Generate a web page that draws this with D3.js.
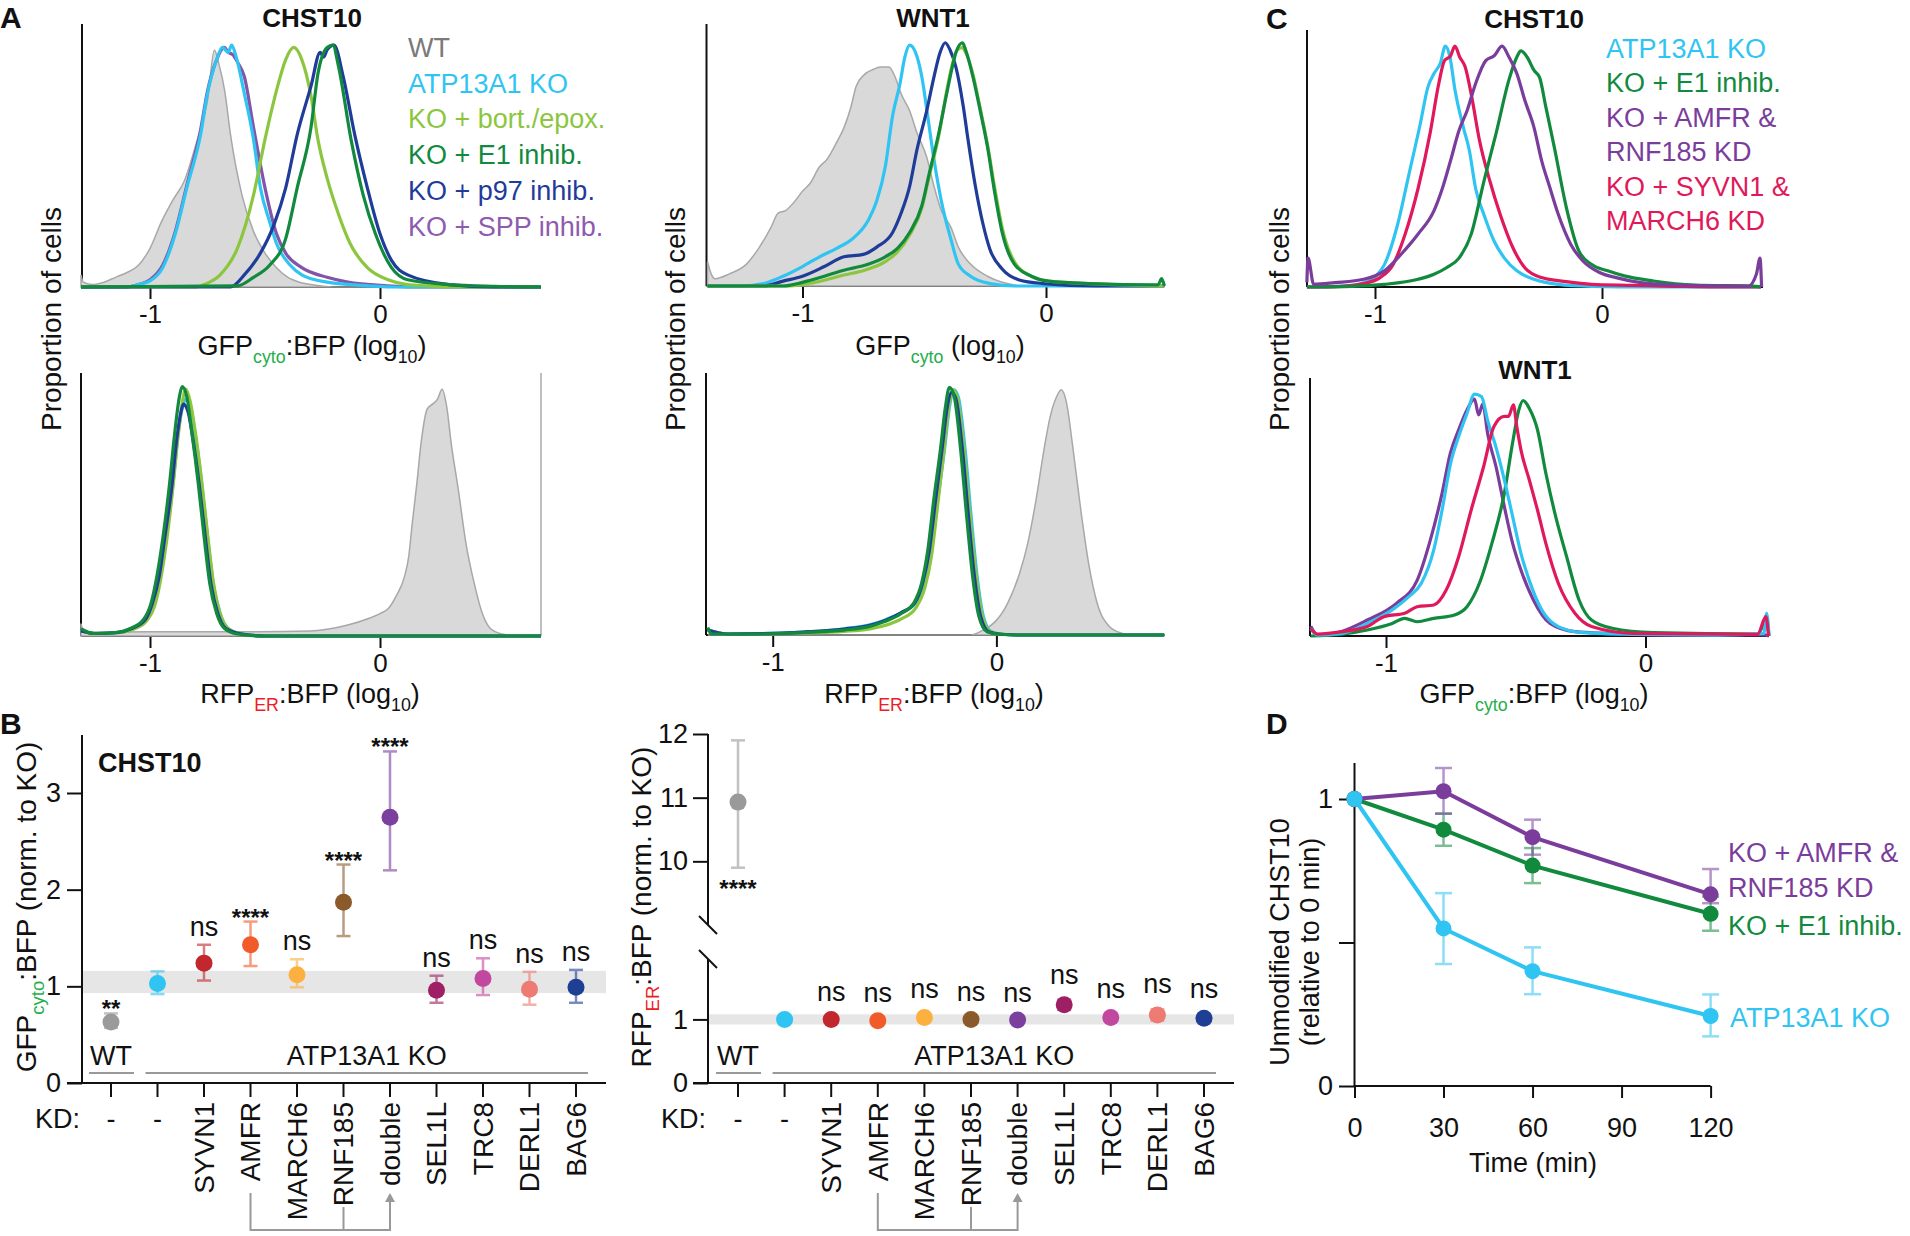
<!DOCTYPE html>
<html>
<head>
<meta charset="utf-8">
<script src="https://cdn.jsdelivr.net/npm/d3@7"></script>
<style>
body { margin: 0; background: #fff; }
svg { display: block; font-family: "Liberation Sans", Arial, sans-serif; }
</style>
</head>
<body>
<script>
// ---------- Panel A: histograms, [log10 ratio, fraction of peak] ----------
const chstGfpWT = [[-1.3,0.05],[-1.29,0.02],[-1.25,0.01],[-1.2,0.02],[-1.15,0.04],[-1.1,0.06],[-1.05,0.09],[-1.0,0.16],[-0.95,0.27],[-0.9,0.36],[-0.85,0.44],[-0.8,0.59],[-0.75,0.77],[-0.72,0.98],[-0.7,0.92],[-0.675,0.81],[-0.65,0.63],[-0.6,0.38],[-0.55,0.23],[-0.5,0.14],[-0.45,0.08],[-0.4,0.04],[-0.35,0.02],[-0.3,0.01],[-0.2,0],[0.7,0]];
const chstGfpKO = [[-1.3,0],[-1.1,0],[-1.05,0.01],[-1.0,0.025],[-0.945,0.08],[-0.89,0.22],[-0.84,0.41],[-0.78,0.63],[-0.75,0.8],[-0.71,0.94],[-0.685,0.99],[-0.66,0.97],[-0.645,1.0],[-0.625,0.95],[-0.59,0.8],[-0.55,0.61],[-0.52,0.41],[-0.48,0.27],[-0.45,0.18],[-0.39,0.09],[-0.34,0.05],[-0.23,0.02],[-0.05,0.005],[0.1,0],[0.7,0]];
const chstGfpSPP = [[-1.3,0],[-1.1,0],[-1.05,0.01],[-1.0,0.03],[-0.945,0.09],[-0.89,0.23],[-0.84,0.42],[-0.78,0.65],[-0.75,0.81],[-0.71,0.94],[-0.677,0.99],[-0.66,0.97],[-0.64,0.96],[-0.62,0.93],[-0.59,0.87],[-0.55,0.66],[-0.5,0.41],[-0.45,0.22],[-0.41,0.14],[-0.34,0.08],[-0.23,0.04],[-0.14,0.02],[0.03,0.005],[0.2,0],[0.7,0]];
const chstGfpBort = [[-1.3,0],[-0.8,0],[-0.765,0.01],[-0.695,0.05],[-0.62,0.16],[-0.55,0.38],[-0.5,0.61],[-0.445,0.83],[-0.41,0.94],[-0.375,0.99],[-0.34,0.94],[-0.3,0.79],[-0.27,0.61],[-0.23,0.45],[-0.18,0.3],[-0.13,0.18],[-0.055,0.08],[0.035,0.03],[0.12,0.01],[0.21,0.005],[0.3,0],[0.7,0]];
const chstGfpP97 = [[-1.3,0],[-0.65,0],[-0.59,0.05],[-0.52,0.14],[-0.46,0.26],[-0.41,0.41],[-0.36,0.63],[-0.3,0.83],[-0.26,0.97],[-0.245,0.95],[-0.23,0.98],[-0.2,1.0],[-0.16,0.87],[-0.11,0.63],[-0.055,0.41],[0.0,0.22],[0.05,0.11],[0.12,0.05],[0.3,0.01],[0.5,0],[0.7,0]];
const chstGfpE1 = [[-1.3,0],[-0.62,0.005],[-0.55,0.04],[-0.48,0.09],[-0.41,0.2],[-0.36,0.41],[-0.3,0.66],[-0.27,0.88],[-0.23,0.99],[-0.205,1.0],[-0.18,0.91],[-0.126,0.61],[-0.073,0.38],[-0.02,0.22],[0.05,0.08],[0.12,0.03],[0.3,0.01],[0.5,0.003],[0.7,0]];

const wntGfpWT = [[-1.39,0.1],[-1.375,0.05],[-1.36,0.03],[-1.3,0.05],[-1.23,0.09],[-1.18,0.155],[-1.13,0.24],[-1.1,0.3],[-1.07,0.31],[-1.03,0.35],[-1.0,0.39],[-0.97,0.42],[-0.93,0.49],[-0.9,0.52],[-0.86,0.59],[-0.83,0.65],[-0.8,0.74],[-0.78,0.82],[-0.745,0.87],[-0.71,0.89],[-0.68,0.9],[-0.645,0.9],[-0.62,0.86],[-0.595,0.79],[-0.56,0.72],[-0.53,0.63],[-0.49,0.53],[-0.46,0.41],[-0.43,0.31],[-0.39,0.24],[-0.36,0.16],[-0.31,0.09],[-0.24,0.04],[-0.16,0.01],[-0.1,0],[0.486,0]];
const wntGfpKO = [[-1.39,0],[-1.25,0],[-1.16,0.01],[-1.08,0.04],[-1.0,0.08],[-0.93,0.12],[-0.86,0.155],[-0.8,0.19],[-0.73,0.27],[-0.695,0.35],[-0.66,0.49],[-0.63,0.7],[-0.6,0.83],[-0.58,0.94],[-0.56,0.99],[-0.536,0.96],[-0.51,0.86],[-0.486,0.7],[-0.46,0.52],[-0.43,0.35],[-0.39,0.19],[-0.36,0.09],[-0.31,0.04],[-0.23,0.01],[-0.13,0],[0.486,0]];
const wntGfpP97 = [[-1.39,0],[-1.16,0],[-1.08,0.02],[-1.0,0.04],[-0.91,0.08],[-0.83,0.12],[-0.75,0.13],[-0.695,0.16],[-0.63,0.22],[-0.595,0.3],[-0.56,0.41],[-0.53,0.56],[-0.49,0.72],[-0.46,0.86],[-0.435,0.96],[-0.414,1.0],[-0.394,0.97],[-0.37,0.9],[-0.34,0.74],[-0.32,0.6],[-0.29,0.41],[-0.26,0.26],[-0.23,0.15],[-0.18,0.07],[-0.11,0.025],[-0.01,0.01],[0.2,0],[0.486,0]];
const wntGfpBort = [[-1.39,0],[-1.05,0],[-0.95,0.015],[-0.83,0.045],[-0.745,0.065],[-0.66,0.1],[-0.61,0.14],[-0.56,0.21],[-0.51,0.32],[-0.48,0.45],[-0.44,0.62],[-0.41,0.79],[-0.385,0.91],[-0.365,0.97],[-0.345,0.98],[-0.33,0.96],[-0.3,0.87],[-0.27,0.73],[-0.24,0.58],[-0.21,0.4],[-0.18,0.24],[-0.13,0.1],[-0.06,0.04],[0.01,0.02],[0.18,0.01],[0.486,0]];
const wntGfpE1 = [[-1.39,0],[-1.08,0],[-1.0,0.015],[-0.91,0.04],[-0.83,0.065],[-0.745,0.085],[-0.66,0.12],[-0.61,0.155],[-0.56,0.22],[-0.51,0.33],[-0.48,0.46],[-0.44,0.63],[-0.41,0.78],[-0.385,0.9],[-0.37,0.96],[-0.343,1.0],[-0.33,0.97],[-0.3,0.86],[-0.27,0.72],[-0.24,0.57],[-0.21,0.38],[-0.18,0.22],[-0.13,0.09],[-0.06,0.04],[0.01,0.02],[0.18,0.01],[0.46,0.005],[0.475,0.03],[0.486,0]];

const chstRfpWT = [[-1.3,0.05],[-1.29,0.02],[-1.25,0.015],[-1.0,0.017],[-0.6,0.017],[-0.3,0.02],[-0.23,0.027],[-0.14,0.044],[-0.05,0.07],[0,0.09],[0.036,0.11],[0.07,0.16],[0.107,0.24],[0.125,0.32],[0.14,0.45],[0.16,0.61],[0.178,0.77],[0.205,0.91],[0.228,0.93],[0.25,0.95],[0.27,0.99],[0.29,0.92],[0.31,0.77],[0.34,0.59],[0.374,0.37],[0.41,0.21],[0.445,0.09],[0.48,0.03],[0.53,0.008],[0.6,0],[0.7,0]];
const chstRfpKO = [[-1.3,0.02],[-1.23,0.01],[-1.14,0.013],[-1.07,0.03],[-1.015,0.064],[-0.98,0.13],[-0.955,0.24],[-0.928,0.4],[-0.9,0.61],[-0.878,0.81],[-0.855,0.93],[-0.845,0.95],[-0.825,0.92],[-0.805,0.82],[-0.775,0.61],[-0.75,0.4],[-0.725,0.21],[-0.695,0.09],[-0.66,0.03],[-0.6,0.008],[-0.5,0],[0.7,0]];
const chstRfpBort = [[-1.3,0.02],[-1.23,0.01],[-1.14,0.013],[-1.07,0.028],[-1.015,0.06],[-0.98,0.12],[-0.955,0.22],[-0.928,0.38],[-0.9,0.6],[-0.878,0.8],[-0.855,0.96],[-0.845,0.99],[-0.825,0.94],[-0.805,0.83],[-0.775,0.62],[-0.75,0.41],[-0.725,0.22],[-0.695,0.09],[-0.66,0.03],[-0.6,0.008],[-0.5,0],[0.7,0]];
const chstRfpP97 = [[-1.3,0.02],[-1.24,0.01],[-1.15,0.013],[-1.08,0.03],[-1.02,0.066],[-0.99,0.13],[-0.96,0.24],[-0.935,0.4],[-0.905,0.6],[-0.885,0.78],[-0.865,0.9],[-0.855,0.93],[-0.835,0.9],[-0.815,0.8],[-0.785,0.6],[-0.76,0.4],[-0.735,0.21],[-0.705,0.09],[-0.67,0.03],[-0.6,0.008],[-0.5,0],[0.7,0]];
const chstRfpE1 = [[-1.3,0.03],[-1.245,0.01],[-1.157,0.013],[-1.085,0.03],[-1.03,0.064],[-0.996,0.13],[-0.97,0.24],[-0.943,0.4],[-0.915,0.61],[-0.893,0.81],[-0.87,0.97],[-0.86,1.0],[-0.84,0.96],[-0.82,0.83],[-0.79,0.61],[-0.765,0.4],[-0.74,0.21],[-0.71,0.09],[-0.676,0.03],[-0.62,0.008],[-0.5,0],[0.7,0]];

const wntRfpWT = [[-1.29,0],[-0.115,0],[-0.06,0.02],[-0.005,0.054],[0.05,0.128],[0.104,0.25],[0.14,0.37],[0.177,0.545],[0.213,0.75],[0.24,0.88],[0.268,0.96],[0.29,0.99],[0.314,0.935],[0.34,0.77],[0.378,0.5],[0.414,0.28],[0.45,0.13],[0.505,0.034],[0.56,0.007],[0.6,0],[0.75,0]];
const wntRfpKO = [[-1.29,0.02],[-1.2,0.004],[-0.863,0.012],[-0.68,0.025],[-0.57,0.04],[-0.5,0.06],[-0.425,0.09],[-0.36,0.13],[-0.32,0.21],[-0.29,0.34],[-0.262,0.545],[-0.232,0.75],[-0.21,0.92],[-0.19,0.99],[-0.17,0.96],[-0.14,0.75],[-0.113,0.48],[-0.086,0.235],[-0.058,0.074],[-0.022,0.013],[0.03,0.003],[0.1,0],[0.75,0]];
const wntRfpBort = [[-1.29,0.02],[-1.2,0.003],[-0.863,0.008],[-0.68,0.015],[-0.57,0.024],[-0.5,0.038],[-0.425,0.065],[-0.36,0.11],[-0.32,0.19],[-0.29,0.32],[-0.262,0.53],[-0.235,0.74],[-0.213,0.92],[-0.195,0.99],[-0.175,0.96],[-0.145,0.75],[-0.118,0.48],[-0.09,0.235],[-0.062,0.074],[-0.026,0.013],[0.03,0.003],[0.1,0],[0.75,0]];
const wntRfpP97 = [[-1.29,0.02],[-1.2,0.004],[-0.863,0.012],[-0.68,0.024],[-0.57,0.038],[-0.5,0.058],[-0.425,0.09],[-0.365,0.13],[-0.33,0.21],[-0.3,0.34],[-0.272,0.545],[-0.243,0.75],[-0.22,0.92],[-0.2,0.98],[-0.18,0.95],[-0.152,0.75],[-0.125,0.48],[-0.098,0.235],[-0.07,0.074],[-0.034,0.013],[0.02,0.003],[0.1,0],[0.75,0]];
const wntRfpE1 = [[-1.29,0.03],[-1.275,0.004],[-1.23,0.004],[-1.05,0.004],[-0.863,0.01],[-0.68,0.02],[-0.57,0.034],[-0.5,0.054],[-0.425,0.087],[-0.37,0.128],[-0.334,0.21],[-0.307,0.34],[-0.28,0.545],[-0.25,0.75],[-0.228,0.92],[-0.21,1.0],[-0.188,0.96],[-0.16,0.75],[-0.133,0.48],[-0.106,0.235],[-0.078,0.074],[-0.042,0.013],[0.013,0.003],[0.1,0],[0.75,0]];

// ---------- Panel C: histograms ----------
const cChstKO = [[-1.3,0],[-1.14,0.004],[-1.05,0.018],[-0.995,0.046],[-0.958,0.094],[-0.903,0.25],[-0.85,0.47],[-0.8,0.68],[-0.767,0.83],[-0.74,0.886],[-0.712,0.93],[-0.69,1.0],[-0.67,0.955],[-0.648,0.82],[-0.61,0.66],[-0.585,0.57],[-0.557,0.41],[-0.52,0.3],[-0.475,0.19],[-0.43,0.12],[-0.375,0.067],[-0.3,0.032],[-0.193,0.011],[-0.047,0.003],[0.2,0],[0.7,0]];
const cChstSYVN1 = [[-1.3,0],[-1.15,0.003],[-1.05,0.014],[-0.976,0.04],[-0.92,0.094],[-0.867,0.22],[-0.81,0.41],[-0.757,0.64],[-0.72,0.84],[-0.694,0.94],[-0.667,0.96],[-0.648,1.0],[-0.627,0.955],[-0.603,0.914],[-0.576,0.8],[-0.54,0.61],[-0.494,0.44],[-0.448,0.3],[-0.393,0.164],[-0.34,0.08],[-0.266,0.039],[-0.157,0.022],[-0.047,0.011],[0.135,0.007],[0.317,0.003],[0.5,0],[0.7,0]];
const cChstAMFR = [[-1.3,0.02],[-1.295,0.12],[-1.27,0.011],[-1.177,0.018],[-1.05,0.032],[-0.958,0.067],[-0.885,0.136],[-0.81,0.22],[-0.74,0.317],[-0.703,0.41],[-0.667,0.525],[-0.63,0.65],[-0.594,0.733],[-0.557,0.844],[-0.512,0.94],[-0.475,0.96],[-0.44,1.0],[-0.41,0.955],[-0.375,0.886],[-0.34,0.775],[-0.3,0.664],[-0.266,0.525],[-0.23,0.414],[-0.193,0.303],[-0.138,0.178],[-0.084,0.108],[-0.011,0.06],[0.062,0.039],[0.17,0.018],[0.317,0.008],[0.645,0.004],[0.68,0.053],[0.696,0.12],[0.703,0]];
const cChstE1 = [[-1.3,0],[-1.1,0.003],[-0.958,0.011],[-0.81,0.032],[-0.74,0.053],[-0.685,0.08],[-0.63,0.12],[-0.576,0.22],[-0.52,0.44],[-0.466,0.64],[-0.41,0.86],[-0.375,0.955],[-0.357,0.98],[-0.33,0.955],[-0.3,0.9],[-0.275,0.87],[-0.248,0.75],[-0.21,0.58],[-0.157,0.33],[-0.102,0.15],[-0.047,0.094],[0.025,0.067],[0.098,0.046],[0.226,0.025],[0.408,0.008],[0.68,0.003],[0.7,0]];

const cWntKO = [[-1.29,0.03],[-1.264,0.004],[-1.168,0.011],[-1.072,0.052],[-0.976,0.108],[-0.912,0.163],[-0.864,0.218],[-0.816,0.356],[-0.784,0.52],[-0.752,0.71],[-0.72,0.825],[-0.688,0.92],[-0.659,1.0],[-0.632,0.99],[-0.608,0.89],[-0.576,0.78],[-0.544,0.646],[-0.512,0.494],[-0.48,0.342],[-0.448,0.23],[-0.4,0.108],[-0.336,0.039],[-0.24,0.014],[-0.048,0.007],[0.272,0.004],[0.456,0.011],[0.467,0.094],[0.476,0]];
const cWntAMFR = [[-1.29,0.04],[-1.264,0.004],[-1.168,0.02],[-1.072,0.066],[-0.96,0.135],[-0.88,0.23],[-0.832,0.386],[-0.784,0.59],[-0.752,0.756],[-0.72,0.853],[-0.688,0.935],[-0.659,0.98],[-0.643,0.914],[-0.627,0.96],[-0.608,0.835],[-0.576,0.7],[-0.544,0.535],[-0.512,0.383],[-0.48,0.273],[-0.432,0.149],[-0.368,0.052],[-0.272,0.018],[-0.048,0.007],[0.2,0.004],[0.456,0.005],[0.476,0]];
const cWntSYVN1 = [[-1.29,0.03],[-1.264,0.008],[-1.168,0.018],[-1.072,0.039],[-1.008,0.08],[-0.928,0.094],[-0.88,0.121],[-0.816,0.128],[-0.768,0.19],[-0.72,0.328],[-0.672,0.52],[-0.624,0.7],[-0.584,0.866],[-0.544,0.908],[-0.528,0.908],[-0.509,0.956],[-0.496,0.866],[-0.48,0.77],[-0.448,0.646],[-0.416,0.52],[-0.384,0.383],[-0.336,0.218],[-0.272,0.094],[-0.208,0.039],[-0.048,0.011],[0.432,0.007],[0.464,0.08],[0.474,0]];
const cWntE1 = [[-1.29,0],[-1.168,0.008],[-1.072,0.025],[-0.976,0.052],[-0.928,0.073],[-0.88,0.059],[-0.816,0.073],[-0.736,0.087],[-0.688,0.121],[-0.64,0.218],[-0.592,0.383],[-0.544,0.59],[-0.512,0.8],[-0.488,0.935],[-0.472,0.974],[-0.448,0.942],[-0.416,0.852],[-0.384,0.673],[-0.352,0.52],[-0.304,0.328],[-0.256,0.149],[-0.208,0.066],[-0.128,0.032],[0.032,0.014],[0.432,0.008],[0.467,0.066],[0.476,0]];

// ---------- Panel B: dot plots ----------
const kdCats = ['WT', 'KO', 'SYVN1', 'AMFR', 'MARCH6', 'RNF185', 'double', 'SEL1L', 'TRC8', 'DERL1', 'BAG6'];
const kdTickLabels = ['-', '-', 'SYVN1', 'AMFR', 'MARCH6', 'RNF185', 'double', 'SEL1L', 'TRC8', 'DERL1', 'BAG6'];
const gfpMean = [0.63, 1.03, 1.24, 1.43, 1.12, 1.87, 2.75, 0.96, 1.08, 0.97, 0.99];
const gfpLow  = [0.57, 0.92, 1.06, 1.21, 0.99, 1.52, 2.20, 0.83, 0.91, 0.81, 0.83];
const gfpHigh = [0.72, 1.155, 1.43, 1.67, 1.28, 2.26, 3.43, 1.11, 1.29, 1.15, 1.17];
const gfpSig  = ['**', '', 'ns', '****', 'ns', '****', '****', 'ns', 'ns', 'ns', 'ns'];
const rfpMean = [10.93, 1.0, 1.0, 0.98, 1.03, 1.0, 0.99, 1.23, 1.03, 1.07, 1.02];
const rfpLow  = [9.9, 0.97, 0.96, 0.94, 0.98, 0.96, 0.95, 1.15, 0.97, 0.98, 0.96];
const rfpHigh = [11.9, 1.03, 1.04, 1.02, 1.08, 1.04, 1.03, 1.31, 1.09, 1.16, 1.08];
const rfpSig  = ['****', '', 'ns', 'ns', 'ns', 'ns', 'ns', 'ns', 'ns', 'ns', 'ns'];
const gfpBand = [0.93, 1.16];
const rfpBand = [0.92, 1.08];

// ---------- Panel D: chase ----------
const chaseTimes = [0, 30, 60, 120];
const chaseKO = [1, 0.549, 0.40, 0.244];
const chaseKOLow = [1, 0.425, 0.32, 0.173];
const chaseKOHigh = [1, 0.672, 0.483, 0.319];
const chaseE1 = [1, 0.893, 0.768, 0.60];
const chaseE1Low = [1, 0.837, 0.707, 0.541];
const chaseE1High = [1, 0.949, 0.829, 0.66];
const chaseAMFR = [1, 1.027, 0.867, 0.668];
const chaseAMFRLow = [1, 0.949, 0.806, 0.637];
const chaseAMFRHigh = [1, 1.108, 0.928, 0.756];

// ---------- styles ----------
const INK = '#111';
const FONT = '"Liberation Sans", Arial, sans-serif';
const COL = {
    wt: '#7a7a7a', ko: '#2fc4f2', bort: '#8cc63f', e1: '#128a3e', p97: '#1f3c98',
    spp: '#8454a8', amfr: '#7a3d9b', syvn: '#e0195b', green: '#1fae4b', red: '#ee1c25'
};
const dotColors = ['#9a9a9a', '#2fc4f2', '#c1272d', '#f15a29', '#fbb040', '#8b5a2b', '#7b3f9e', '#9e1f63', '#c2479e', '#ee7b73', '#1f3f95'];

let svg = d3.select('body').append('svg')
    .attr('width', 1910)
    .attr('height', 1236);

const hline = function (g, x1, y1, x2, y2, color, w) {
    return g.append('line')
        .attr('x1', x1).attr('y1', y1).attr('x2', x2).attr('y2', y2)
        .attr('stroke', color || INK).attr('stroke-width', w || 2);
};

const addText = function (g, x, y, str, size, opts) {
    opts = opts || {};
    let t = g.append('text')
        .attr('x', x).attr('y', y)
        .attr('font-size', size)
        .attr('fill', opts.color || INK)
        .attr('text-anchor', opts.anchor || 'start')
        .text(str);
    if (opts.bold) t.attr('font-weight', 'bold');
    if (opts.rotate) t.attr('transform', `rotate(-90, ${x}, ${y})`);
    return t;
};

// parts: [text, subColor?]; a part with a colour (or 'sub') is a subscript
const richText = function (g, x, y, parts, size, opts) {
    opts = opts || {};
    let t = g.append('text')
        .attr('x', x).attr('y', y)
        .attr('font-size', size)
        .attr('fill', INK)
        .attr('text-anchor', opts.anchor || 'middle');
    if (opts.rotate) t.attr('transform', `rotate(-90, ${x}, ${y})`);
    let shifted = false;
    parts.forEach(p => {
        let s = t.append('tspan').text(p[0]);
        if (p[1]) {
            s.attr('font-size', size * 0.66).attr('dy', 8);
            if (p[1] !== 'sub') s.attr('fill', p[1]);
            shifted = true;
        } else if (shifted) {
            s.attr('dy', -8);
            shifted = false;
        }
    });
    return t;
};

const styleAxis = function (a, size) {
    a.select('.domain').remove();
    a.selectAll('line').attr('stroke', INK).attr('stroke-width', 2);
    a.selectAll('text').attr('font-size', size).attr('fill', INK).attr('font-family', FONT);
};

// ---------- histogram panels ----------
const drawHist = function (p, curves) {
    let x = d3.scaleLinear().domain([-1, 0]).range([p.tickA, p.tickB]);
    let y = d3.scaleLinear().domain([0, p.yMax]).range([p.base, p.top]);
    let g = svg.append('g');

    hline(g, p.left, p.top, p.left, p.base);
    hline(g, p.left, p.base, p.right, p.base);
    if (p.frame) hline(g, p.right, p.top, p.right, p.base, '#aaa', 1.5);

    g.append('g')
        .attr('transform', `translate(0, ${p.base})`)
        .call(d3.axisBottom(x).tickValues([-1, 0]).tickSize(12).tickPadding(6).tickFormat(d => String(d)))
        .call(a => styleAxis(a, 26));

    let area = d3.area()
        .x(d => x(d[0])).y0(p.base).y1(d => y(d[1]))
        .curve(d3.curveMonotoneX);
    let line = d3.line()
        .x(d => x(d[0])).y(d => y(d[1]))
        .curve(d3.curveMonotoneX);

    curves.forEach(c => {
        if (c.fill) {
            g.append('path').attr('d', area(c.data))
                .attr('fill', '#d9d9d9').attr('stroke', '#a8a8a8').attr('stroke-width', 1.5);
        } else {
            g.append('path').attr('d', line(c.data))
                .attr('fill', 'none').attr('stroke', c.color)
                .attr('stroke-width', 3.2).attr('stroke-linejoin', 'round');
        }
    });
};

drawHist({left: 82, right: 541, tickA: 150, tickB: 380, top: 24, base: 287, yMax: 1.087}, [
    {data: chstGfpWT, fill: true},
    {data: chstGfpSPP, color: COL.spp},
    {data: chstGfpKO, color: COL.ko},
    {data: chstGfpBort, color: COL.bort},
    {data: chstGfpP97, color: COL.p97},
    {data: chstGfpE1, color: COL.e1}
]);
drawHist({left: 706.5, right: 1164.5, tickA: 802.5, tickB: 1046, top: 24, base: 286, yMax: 1.077}, [
    {data: wntGfpWT, fill: true},
    {data: wntGfpKO, color: COL.ko},
    {data: wntGfpP97, color: COL.p97},
    {data: wntGfpBort, color: COL.bort},
    {data: wntGfpE1, color: COL.e1}
]);
drawHist({left: 81, right: 541, tickA: 150, tickB: 380, top: 373, base: 636, yMax: 1.055, frame: true}, [
    {data: chstRfpWT, fill: true},
    {data: chstRfpKO, color: COL.ko},
    {data: chstRfpBort, color: COL.bort},
    {data: chstRfpP97, color: COL.p97},
    {data: chstRfpE1, color: COL.e1}
]);
drawHist({left: 706, right: 1164.5, tickA: 772.7, tickB: 996.4, top: 373, base: 635, yMax: 1.058}, [
    {data: wntRfpWT, fill: true},
    {data: wntRfpKO, color: COL.ko},
    {data: wntRfpBort, color: COL.bort},
    {data: wntRfpP97, color: COL.p97},
    {data: wntRfpE1, color: COL.e1}
]);
drawHist({left: 1307, right: 1763, tickA: 1375, tickB: 1602, top: 30, base: 287, yMax: 1.067}, [
    {data: cChstKO, color: COL.ko},
    {data: cChstSYVN1, color: COL.syvn},
    {data: cChstE1, color: COL.e1},
    {data: cChstAMFR, color: COL.amfr}
]);
drawHist({left: 1310, right: 1769, tickA: 1386, tickB: 1645.5, top: 378, base: 636, yMax: 1.067}, [
    {data: cWntAMFR, color: COL.amfr},
    {data: cWntE1, color: COL.e1},
    {data: cWntKO, color: COL.ko},
    {data: cWntSYVN1, color: COL.syvn}
]);

let txt = svg.append('g');

// panel letters and titles
addText(txt, 0, 28, 'A', 30, {bold: true});
addText(txt, 0, 734, 'B', 30, {bold: true});
addText(txt, 1266, 29, 'C', 30, {bold: true});
addText(txt, 1266, 734, 'D', 30, {bold: true});
addText(txt, 312, 27, 'CHST10', 26, {bold: true, anchor: 'middle'});
addText(txt, 933, 27, 'WNT1', 26, {bold: true, anchor: 'middle'});
addText(txt, 1534, 28, 'CHST10', 26, {bold: true, anchor: 'middle'});
addText(txt, 1535, 379, 'WNT1', 26, {bold: true, anchor: 'middle'});

// histogram axis titles
richText(txt, 312, 355, [['GFP'], ['cyto', COL.green], [':BFP (log'], ['10', 'sub'], [')']], 27);
richText(txt, 940, 355, [['GFP'], ['cyto', COL.green], [' (log'], ['10', 'sub'], [')']], 27);
richText(txt, 310, 703, [['RFP'], ['ER', COL.red], [':BFP (log'], ['10', 'sub'], [')']], 27);
richText(txt, 934, 703, [['RFP'], ['ER', COL.red], [':BFP (log'], ['10', 'sub'], [')']], 27);
richText(txt, 1534, 703, [['GFP'], ['cyto', COL.green], [':BFP (log'], ['10', 'sub'], [')']], 27);
addText(txt, 61, 319, 'Proportion of cells', 28, {rotate: true, anchor: 'middle'});
addText(txt, 685, 319, 'Proportion of cells', 28, {rotate: true, anchor: 'middle'});
addText(txt, 1289, 319, 'Proportion of cells', 28, {rotate: true, anchor: 'middle'});

// legends
const legendA = ['WT', 'ATP13A1 KO', 'KO + bort./epox.', 'KO + E1 inhib.', 'KO + p97 inhib.', 'KO + SPP inhib.'];
const legendAColors = [COL.wt, COL.ko, COL.bort, COL.e1, COL.p97, '#8e5bb0'];
legendA.forEach((s, i) => addText(txt, 408, 57 + i * 35.7, s, 27, {color: legendAColors[i]}));
const legendC = ['ATP13A1 KO', 'KO + E1 inhib.', 'KO + AMFR &', 'RNF185 KD', 'KO + SYVN1 &', 'MARCH6 KD'];
const legendCColors = [COL.ko, COL.e1, COL.amfr, COL.amfr, COL.syvn, COL.syvn];
legendC.forEach((s, i) => addText(txt, 1606, 58 + i * 34.4, s, 27, {color: legendCColors[i]}));

// ---------- panel B ----------
const drawDots = function (p) {
    let g = svg.append('g');
    let x = d3.scalePoint().domain(kdCats).range(p.xRange);

    g.append('rect')
        .attr('x', p.axisX).attr('width', p.xEnd - p.axisX)
        .attr('y', p.yFn(p.band[1])).attr('height', p.yFn(p.band[0]) - p.yFn(p.band[1]))
        .attr('fill', '#e6e6e6');

    // x axis
    hline(g, p.axisX - 15, p.base, p.xEnd, p.base);
    kdCats.forEach(c => hline(g, x(c), p.base, x(c), p.base + 14));

    // category labels
    addText(g, p.axisX - 2, 1128, 'KD:', 27, {anchor: 'end'});
    kdCats.forEach((c, i) => {
        if (kdTickLabels[i] === '-') {
            addText(g, x(c), 1128, '-', 27, {anchor: 'middle'});
        } else {
            addText(g, x(c), 1102, kdTickLabels[i], 28, {anchor: 'end', rotate: true}).attr('dy', '0.35em');
        }
    });

    // group lines
    hline(g, x('WT') - 22, 1073, x('WT') + 23, 1073, '#999', 2);
    hline(g, x('KO') - 12, 1073, x('BAG6') + 12, 1073, '#999', 2);
    addText(g, x('WT'), 1065, 'WT', 27, {anchor: 'middle'});
    addText(g, (x('KO') + x('BAG6')) / 2, 1065, 'ATP13A1 KO', 27, {anchor: 'middle'});

    // AMFR + RNF185 -> double bracket
    let br = g.append('g').attr('stroke', '#999').attr('stroke-width', 2).attr('fill', 'none');
    br.append('path').attr('d', `M${x('AMFR')},1193 V1230 H${x('double')} V1200`);
    br.append('path').attr('d', `M${x('RNF185')},1207 V1230`);
    g.append('path')
        .attr('d', `M${x('double') - 5},1202 L${x('double')},1193 L${x('double') + 5},1202 Z`)
        .attr('fill', '#999');

    // error bars and dots
    kdCats.forEach((c, i) => {
        let col = dotColors[i];
        let eb = g.append('g').attr('opacity', 0.6);
        hline(eb, x(c), p.yFn(p.low[i]), x(c), p.yFn(p.high[i]), col, 2.5);
        hline(eb, x(c) - 7, p.yFn(p.low[i]), x(c) + 7, p.yFn(p.low[i]), col, 2.5);
        hline(eb, x(c) - 7, p.yFn(p.high[i]), x(c) + 7, p.yFn(p.high[i]), col, 2.5);
        g.append('circle')
            .attr('cx', x(c)).attr('cy', p.yFn(p.mean[i])).attr('r', 8.5)
            .attr('fill', col);

        let s = p.sig[i];
        if (s === 'ns') {
            addText(g, x(c), p.yFn(p.high[i]) - p.nsGap, 'ns', 27, {anchor: 'middle'});
        } else if (s && p.below && i === 0) {
            addText(g, x(c), p.yFn(p.low[i]) + 29, s, 24, {anchor: 'middle', bold: true});
        } else if (s) {
            addText(g, x(c), p.yFn(p.high[i]) + 4, s, 24, {anchor: 'middle', bold: true});
        }
    });
    return g;
};

// left: GFP
let yGfp = d3.scaleLinear().domain([0, 3.6]).range([1083, 735]);
let gB1 = drawDots({
    axisX: 82, xEnd: 606, xRange: [111, 576], base: 1083, yFn: yGfp, band: gfpBand,
    mean: gfpMean, low: gfpLow, high: gfpHigh, sig: gfpSig, nsGap: 9
});
hline(gB1, 82, 735, 82, 1083);
gB1.append('g')
    .attr('transform', 'translate(82, 0)')
    .call(d3.axisLeft(yGfp).tickValues([0, 1, 2, 3]).tickSize(15).tickPadding(6).tickFormat(d => String(d)))
    .call(a => styleAxis(a, 27));
addText(gB1, 98, 772, 'CHST10', 27, {bold: true});
richText(gB1, 36, 907, [['GFP'], ['cyto', COL.green], [':BFP (norm. to KO)']], 28, {rotate: true});

// right: RFP with broken axis
let yRfpTop = d3.scaleLinear().domain([9.0, 12]).range([925, 734]);
let yRfpBot = d3.scaleLinear().domain([0, 1.95]).range([1083, 959]);
const yRfp = v => (v > 5 ? yRfpTop(v) : yRfpBot(v));
let gB2 = drawDots({
    axisX: 708, xEnd: 1234, xRange: [738, 1204], base: 1083, yFn: yRfp, band: rfpBand,
    mean: rfpMean, low: rfpLow, high: rfpHigh, sig: rfpSig, nsGap: 16, below: true
});
hline(gB2, 708, 734, 708, 925);
hline(gB2, 708, 959, 708, 1083);
hline(gB2, 699, 916, 717, 934);
hline(gB2, 699, 950, 717, 968);
[[yRfpTop, [10, 11, 12]], [yRfpBot, [0, 1]]].forEach(a => {
    gB2.append('g')
        .attr('transform', 'translate(708, 0)')
        .call(d3.axisLeft(a[0]).tickValues(a[1]).tickSize(15).tickPadding(5).tickFormat(d => String(d)))
        .call(s => styleAxis(s, 27));
});
richText(gB2, 651, 907, [['RFP'], ['ER', COL.red], [':BFP  (norm. to KO)']], 28, {rotate: true});

// ---------- panel D ----------
let xD = d3.scaleLinear().domain([0, 120]).range([1354.5, 1710.6]);
let yD = d3.scaleLinear().domain([0, 1]).range([1086, 799]);
let gD = svg.append('g');
hline(gD, 1354.5, 763, 1354.5, 1086);
hline(gD, 1354.5, 1086, 1710.6, 1086);
gD.append('g')
    .attr('transform', 'translate(0, 1086)')
    .call(d3.axisBottom(xD).tickValues([0, 30, 60, 90, 120]).tickSize(12).tickPadding(20).tickFormat(d => String(d)))
    .call(a => styleAxis(a, 27));
gD.append('g')
    .attr('transform', 'translate(1354.5, 0)')
    .call(d3.axisLeft(yD).tickValues([0, 0.5, 1]).tickSize(15.5).tickPadding(6).tickFormat(d => (d === 0.5 ? '' : String(d))))
    .call(a => styleAxis(a, 27));

const chaseSeries = [
    {mean: chaseE1, low: chaseE1Low, high: chaseE1High, color: COL.e1},
    {mean: chaseAMFR, low: chaseAMFRLow, high: chaseAMFRHigh, color: COL.amfr},
    {mean: chaseKO, low: chaseKOLow, high: chaseKOHigh, color: COL.ko}
];
chaseSeries.forEach(s => {
    let eb = gD.append('g').attr('opacity', 0.55);
    chaseTimes.forEach((t, i) => {
        if (s.low[i] === s.high[i]) return;
        hline(eb, xD(t), yD(s.low[i]), xD(t), yD(s.high[i]), s.color, 2.5);
        hline(eb, xD(t) - 8.5, yD(s.low[i]), xD(t) + 8.5, yD(s.low[i]), s.color, 2.5);
        hline(eb, xD(t) - 8.5, yD(s.high[i]), xD(t) + 8.5, yD(s.high[i]), s.color, 2.5);
    });
});
let chaseLine = d3.line().x((d, i) => xD(chaseTimes[i])).y(d => yD(d));
chaseSeries.forEach(s => {
    gD.append('path').attr('d', chaseLine(s.mean))
        .attr('fill', 'none').attr('stroke', s.color).attr('stroke-width', 4);
    gD.selectAll(null).data(s.mean).enter().append('circle')
        .attr('cx', (d, i) => xD(chaseTimes[i])).attr('cy', d => yD(d))
        .attr('r', 8).attr('fill', s.color);
});
addText(gD, 1533, 1172, 'Time (min)', 27, {anchor: 'middle'});
addText(gD, 1289, 942, 'Unmodified CHST10', 27, {anchor: 'middle', rotate: true});
addText(gD, 1319, 942, '(relative to 0 min)', 27, {anchor: 'middle', rotate: true});
addText(gD, 1728, 862, 'KO + AMFR &', 27, {color: COL.amfr});
addText(gD, 1728, 897, 'RNF185 KD', 27, {color: COL.amfr});
addText(gD, 1728, 935, 'KO + E1 inhib.', 27, {color: COL.e1});
addText(gD, 1730, 1027, 'ATP13A1 KO', 27, {color: COL.ko});
</script>
</body>
</html>
